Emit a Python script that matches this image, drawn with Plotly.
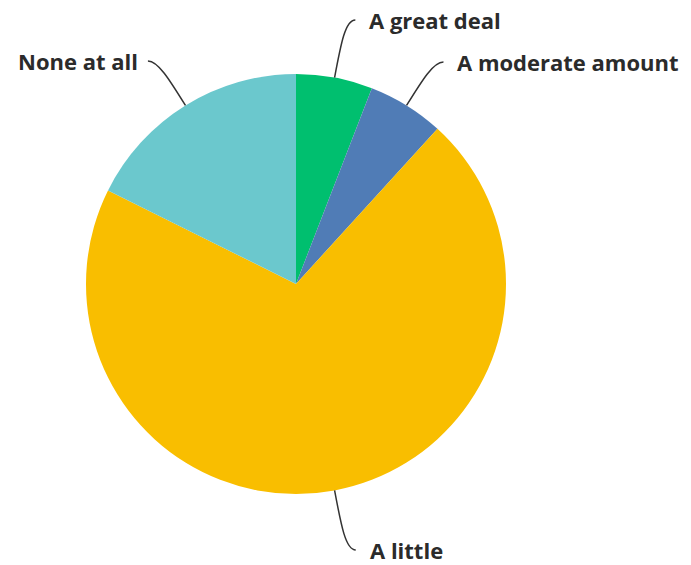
import math
import plotly.graph_objects as go

# Survey responses (counts)
labels = ["A great deal", "A moderate amount", "A little", "None at all"]
counts = [1, 1, 12, 3]
colors = ["#00BF6F", "#507CB6", "#F9BE00", "#6BC8CD"]

W, H = 691, 565
CX, CY, R = 296, 284, 210          # pie centre and radius in pixels
label_y = [20, 62, 550, 61]         # vertical pixel position of each callout
hook = 10                           # horizontal length of the leader's hook
gap_right, gap_left = 12, 8         # space between hook end and text


def px(x):
    return x / W


def py(y):
    return 1 - y / H


fig = go.Figure(go.Pie(
    labels=labels,
    values=counts,
    sort=False,
    direction="clockwise",
    rotation=0,
    textinfo="none",
    hoverinfo="label+percent",
    marker=dict(colors=colors, line=dict(width=0)),
    domain=dict(x=[px(CX - R), px(CX + R)], y=[py(CY + R), py(CY - R)]),
    showlegend=False,
))

shapes, annotations = [], []
total = sum(counts)
cum = 0
for lab, v, ly in zip(labels, counts, label_y):
    mid = (cum + v / 2) / total * 2 * math.pi
    cum += v
    dx, dy = math.sin(mid), -math.cos(mid)
    x0, y0 = CX + R * dx, CY + R * dy
    # extend along the radial direction until the callout's height
    d = (ly - y0) / dy
    ex, ey = x0 + d * dx, ly
    side = 1 if dx >= 0 else -1
    x3 = ex + side * hook
    c1x, c1y = x0 + 0.6 * d * dx, y0 + 0.6 * d * dy
    path = (f"M {px(x0)},{py(y0)} C {px(c1x)},{py(c1y)} "
            f"{px(ex)},{py(ey)} {px(x3)},{py(ey)}")
    shapes.append(dict(type="path", xref="paper", yref="paper", path=path,
                       line=dict(color="#333333", width=1.5)))
    gap = gap_right if side > 0 else gap_left
    annotations.append(dict(
        x=px(x3 + side * gap), y=py(ey), xref="paper", yref="paper",
        text=lab, showarrow=False,
        xanchor="left" if side > 0 else "right", yanchor="middle",
        font=dict(family="Open Sans", size=22, color="#2b2b2b", weight=700),
    ))

fig.update_layout(
    width=W, height=H,
    margin=dict(l=0, r=0, t=0, b=0),
    paper_bgcolor="white",
    plot_bgcolor="white",
    shapes=shapes,
    annotations=annotations,
)

fig.write_html("out.html")
